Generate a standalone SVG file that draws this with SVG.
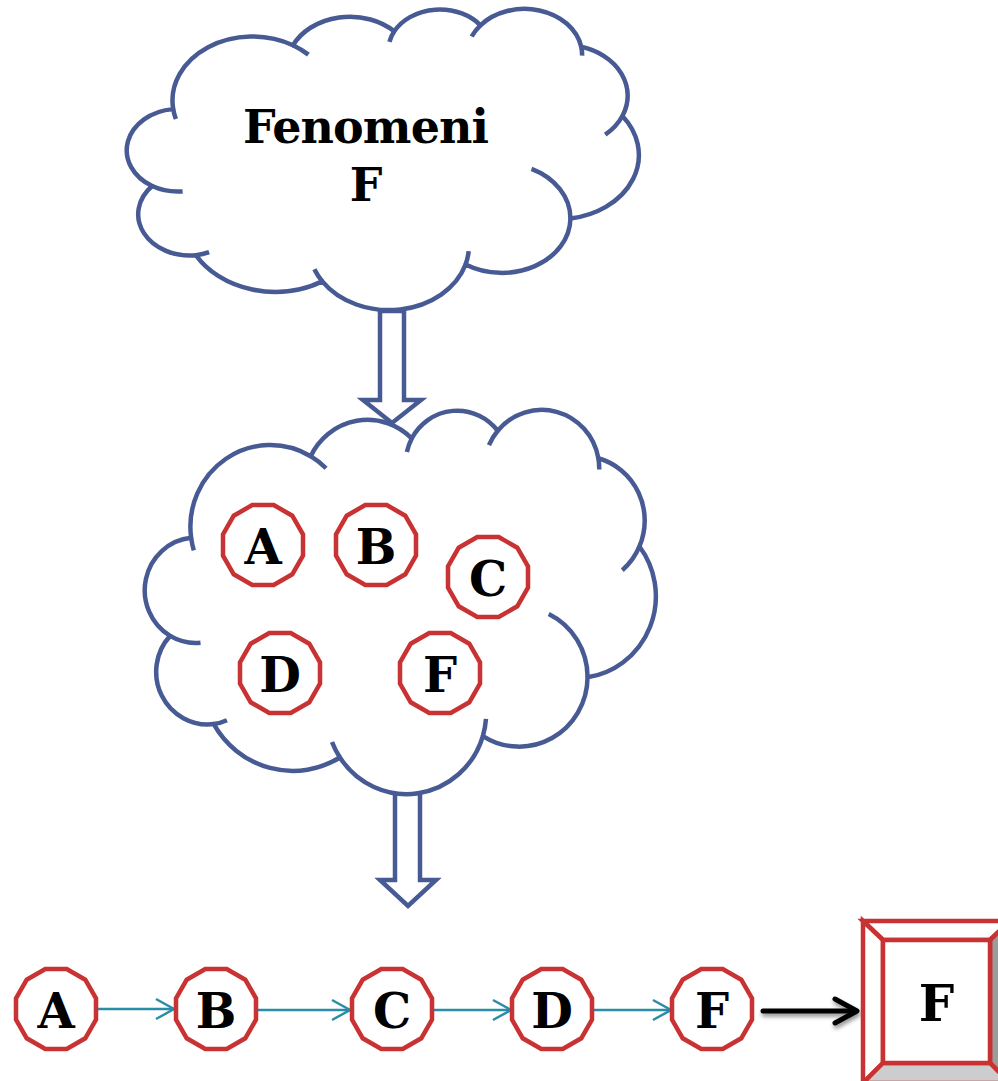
<svg xmlns="http://www.w3.org/2000/svg" width="998" height="1081" viewBox="0 0 998 1081">
<defs>
<style>
.cloud{fill:#fff;stroke:#475a93;stroke-width:4.5;stroke-linejoin:round}
.tick{fill:none;stroke:#475a93;stroke-width:4.5}
.blk{fill:#fff;stroke:#475a93;stroke-width:4.5;stroke-linejoin:miter}
.dod{fill:#fff;stroke:#c83232;stroke-width:4.5}
.lbl{font-family:"DejaVu Serif","Liberation Serif",serif;font-weight:bold;font-size:48px;text-anchor:middle;fill:#000}
.teal{fill:none;stroke:#2b8ca8;stroke-width:2.5}
.bev{stroke:#c83232;stroke-width:4.5;stroke-linejoin:miter}
</style>
<path id="dodShape" d="M-40,-10.72 L-29.28,-29.28 L-10.72,-40 L10.72,-40 L29.28,-29.28 L40,-10.72 L40,10.72 L29.28,29.28 L10.72,40 L-10.72,40 L-29.28,29.28 L-40,10.72 Z"/>
<marker id="tealHead" markerUnits="userSpaceOnUse" markerWidth="24" markerHeight="24" refX="20" refY="12" orient="auto" overflow="visible">
<path d="M2,2 L20,12 L2,22" fill="none" stroke="#2b8ca8" stroke-width="2.5"/>
</marker>
<filter id="shadow" x="-20%" y="-60%" width="140%" height="260%">
<feDropShadow dx="1" dy="3" stdDeviation="2" flood-color="#000" flood-opacity="0.45"/>
</filter>
</defs>
<rect width="998" height="1081" fill="#fff"/>

<g id="connectors">
<polygon class="blk" points="380,311 404,311 404,400 421,400 392,423 363,400 380,400"/>
<polygon class="blk" points="395,793 420,793 420,880 436,880 408,906 380,880 395,880"/>
<line class="teal" x1="98" y1="1009" x2="174" y2="1009" marker-end="url(#tealHead)"/>
<line class="teal" x1="258" y1="1010" x2="350" y2="1010" marker-end="url(#tealHead)"/>
<line class="teal" x1="433" y1="1010" x2="511" y2="1010" marker-end="url(#tealHead)"/>
<line class="teal" x1="594" y1="1010" x2="671" y2="1010" marker-end="url(#tealHead)"/>
<g filter="url(#shadow)" fill="none" stroke="#000" stroke-width="5" stroke-linecap="round" stroke-linejoin="round">
<path d="M763,1011 L854,1011"/>
<path d="M835,999 L857,1011 L835,1023"/>
</g>
</g>

<g id="cloud-fenomeni">
<g transform="translate(127 9) scale(0.011852 0.0069676)">
<path class="cloud" vector-effect="non-scaling-stroke" d="M3900,14370 A6753,9190 0 0 1 14005,5202 A5333,7267 0 0 1 22549,3201 A4365,5945 0 0 1 29820,2340 A4857,6595 0 0 1 38324,5426 A5333,7273 0 0 1 41798,15354 A6775,9220 0 0 1 37413,30068 A5785,7867 0 0 1 28564,36678 A6752,9215 0 0 1 16478,39090 A7720,10543 0 0 1 5813,35335 A4360,5918 0 0 1 2122,25413 A4345,5945 0 0 1 3900,14370 Z"/>
<path class="tick" vector-effect="non-scaling-stroke" d="M4693,26177 A4345,5945 0 0 1 2122,25413 M6928,34899 A4360,5918 0 0 1 5813,35335 M16478,39090 A6752,9215 0 0 1 15810,37350 M28827,34751 A6752,9215 0 0 1 28564,36678 M34129,22954 A5785,7867 0 0 1 37413,30068 M41798,15354 A5333,7273 0 0 1 40350,18029 M38324,5426 A4857,6595 0 0 1 38400,6690 M29078,3952 A4857,6595 0 0 1 29820,2340 M22141,4720 A4365,5945 0 0 1 22549,3201 M14000,5192 A6753,9190 0 0 1 15305,6550 M4127,15789 A6753,9190 0 0 1 3900,14370"/>
</g>
<text class="lbl" x="366" y="143" style="font-size:46px" textLength="246" lengthAdjust="spacing">Fenomeni</text>
<text class="lbl" x="366" y="201" style="font-size:46px">F</text>
</g>

<g id="cloud-elements">
<g transform="translate(145 410) scale(0.011829 0.008889)">
<path class="cloud" vector-effect="non-scaling-stroke" d="M3900,14370 A6753,9190 0 0 1 14005,5202 A5333,7267 0 0 1 22549,3201 A4365,5945 0 0 1 29820,2340 A4857,6595 0 0 1 38324,5426 A5333,7273 0 0 1 41798,15354 A6775,9220 0 0 1 37413,30068 A5785,7867 0 0 1 28564,36678 A6752,9215 0 0 1 16478,39090 A7720,10543 0 0 1 5813,35335 A4360,5918 0 0 1 2122,25413 A4345,5945 0 0 1 3900,14370 Z"/>
<path class="tick" vector-effect="non-scaling-stroke" d="M4693,26177 A4345,5945 0 0 1 2122,25413 M6928,34899 A4360,5918 0 0 1 5813,35335 M16478,39090 A6752,9215 0 0 1 15810,37350 M28827,34751 A6752,9215 0 0 1 28564,36678 M34129,22954 A5785,7867 0 0 1 37413,30068 M41798,15354 A5333,7273 0 0 1 40350,18029 M38324,5426 A4857,6595 0 0 1 38400,6690 M29078,3952 A4857,6595 0 0 1 29820,2340 M22141,4720 A4365,5945 0 0 1 22549,3201 M14000,5192 A6753,9190 0 0 1 15305,6550 M4127,15789 A6753,9190 0 0 1 3900,14370"/>
</g>
</g>

<g id="cloud-A"><use href="#dodShape" class="dod" x="263" y="545"/><text class="lbl" x="263" y="564">A</text></g>
<g id="cloud-B"><use href="#dodShape" class="dod" x="376" y="545"/><text class="lbl" x="376" y="564">B</text></g>
<g id="cloud-C"><use href="#dodShape" class="dod" x="488" y="577"/><text class="lbl" x="488" y="596">C</text></g>
<g id="cloud-D"><use href="#dodShape" class="dod" x="280" y="673"/><text class="lbl" x="280" y="692">D</text></g>
<g id="cloud-F"><use href="#dodShape" class="dod" x="440" y="673"/><text class="lbl" x="440" y="692">F</text></g>

<g id="chain-A"><use href="#dodShape" class="dod" x="56" y="1009"/><text class="lbl" x="56" y="1028">A</text></g>
<g id="chain-B"><use href="#dodShape" class="dod" x="216" y="1009"/><text class="lbl" x="216" y="1028">B</text></g>
<g id="chain-C"><use href="#dodShape" class="dod" x="392" y="1009"/><text class="lbl" x="392" y="1028">C</text></g>
<g id="chain-D"><use href="#dodShape" class="dod" x="552" y="1009"/><text class="lbl" x="552" y="1028">D</text></g>
<g id="chain-F"><use href="#dodShape" class="dod" x="712" y="1009"/><text class="lbl" x="712" y="1028">F</text></g>

<g id="result-F">
<polygon class="bev" fill="#fff" points="863,921 1010,921 990,940 883,940"/>
<polygon class="bev" fill="#fff" points="863,921 883,940 883,1063 863,1083"/>
<polygon class="bev" fill="#9c9c9c" points="1010,921 1010,1083 990,1063 990,940"/>
<polygon class="bev" fill="#cdcdcd" points="863,1083 1010,1083 990,1063 883,1063"/>
<rect class="bev" fill="#fff" x="883" y="940" width="107" height="123"/>
<text class="lbl" x="936.5" y="1021" style="font-size:50px">F</text>
</g>
</svg>
